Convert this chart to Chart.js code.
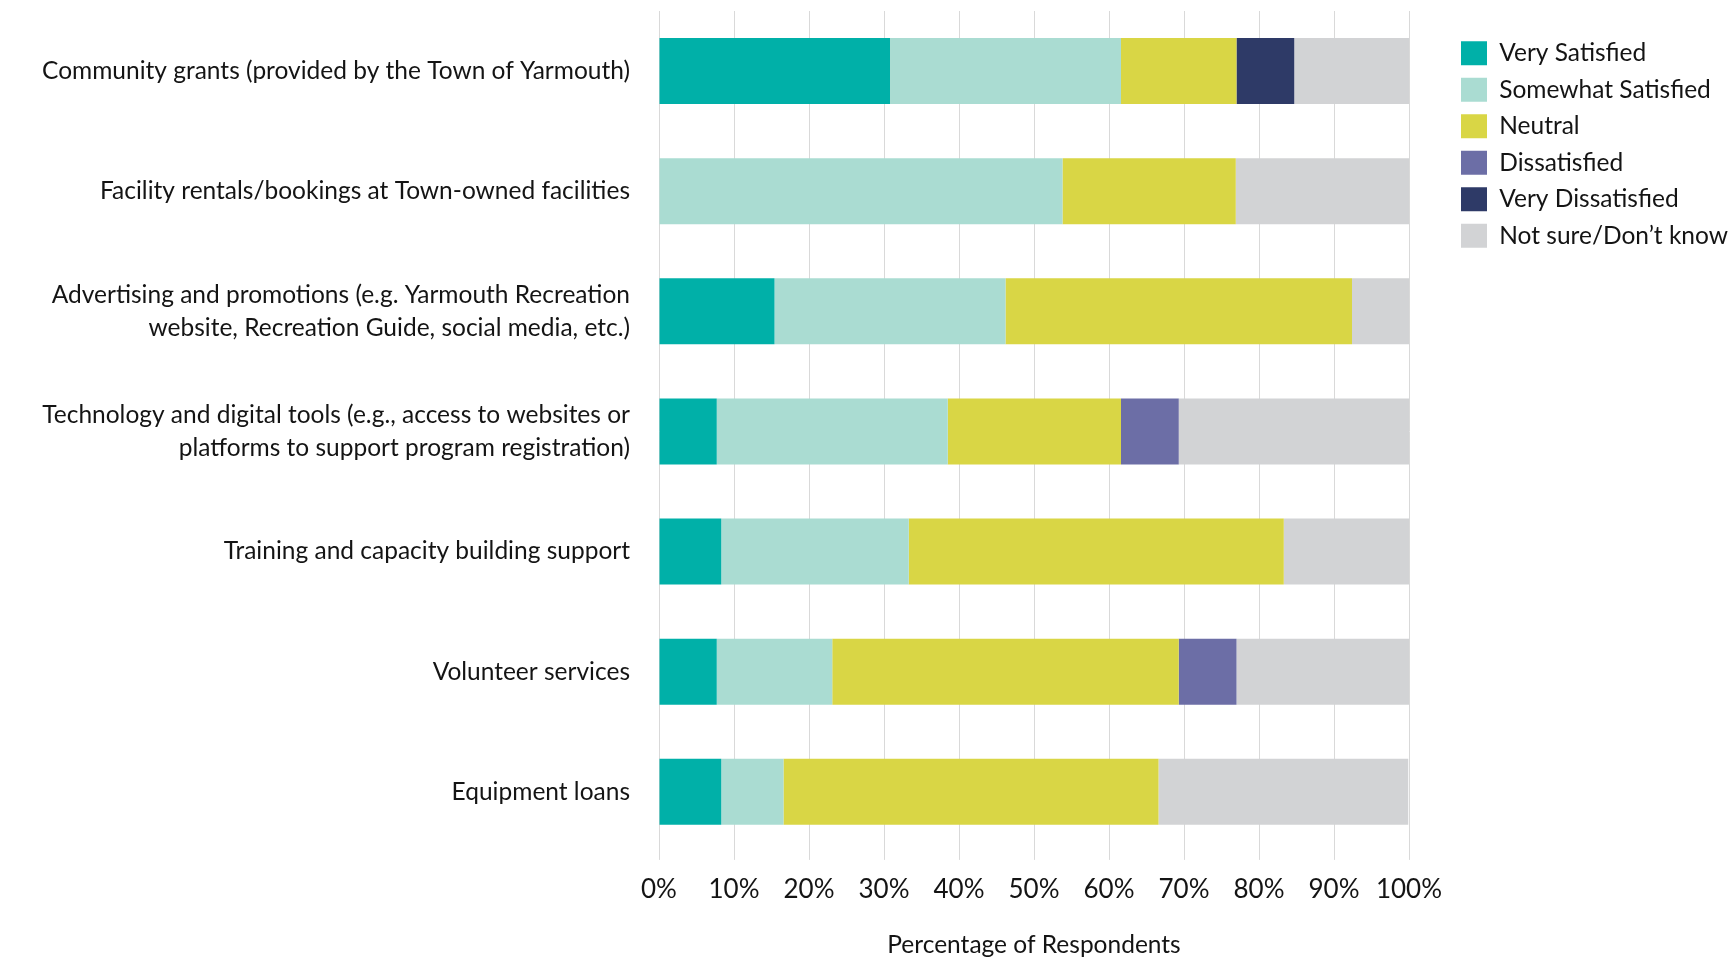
<!DOCTYPE html>
<html>
<head>
<meta charset="utf-8">
<title>Satisfaction with Town support services</title>
<script src="https://cdn.jsdelivr.net/npm/chart.js@4.4.1/dist/chart.umd.min.js"></script>
<style>
  html, body { margin: 0; padding: 0; background: #ffffff; }
  #wrap { width: 1731px; height: 964px; position: relative; }
</style>
</head>
<body>
<div id="wrap"><canvas id="chart"></canvas></div>
<script>
// Support services rated by respondents
const categories = [
  'Community grants (provided by the Town of Yarmouth)',
  'Facility rentals/bookings at Town-owned facilities',
  ['Advertising and promotions (e.g. Yarmouth Recreation', 'website, Recreation Guide, social media, etc.)'],
  ['Technology and digital tools (e.g., access to websites or', 'platforms to support program registration)'],
  'Training and capacity building support',
  'Volunteer services',
  'Equipment loans'
];

// Share of respondents (%) for each rating, in category order
const verySatisfied     = [30.8,  0.0, 15.4,  7.7,  8.3,  7.7,  8.3];
const somewhatSatisfied = [30.8, 53.8, 30.8, 30.8, 25.0, 15.4,  8.3];
const neutral           = [15.4, 23.1, 46.2, 23.1, 50.0, 46.2, 50.0];
const dissatisfied      = [ 0.0,  0.0,  0.0,  7.7,  0.0,  7.7,  0.0];
const veryDissatisfied  = [ 7.7,  0.0,  0.0,  0.0,  0.0,  0.0,  0.0];
const notSure           = [15.4, 23.1,  7.7, 30.8, 16.7, 23.1, 33.3];

const seriesNames = ['Very Satisfied', 'Somewhat Satisfied', 'Neutral', 'Dissatisfied', 'Very Dissatisfied', 'Not sure/Don\u2019t know'];
const seriesValues = [verySatisfied, somewhatSatisfied, neutral, dissatisfied, veryDissatisfied, notSure];
const seriesColors = ['#00B0A8', '#AADCD2', '#D9D645', '#6C6EA6', '#2E3A67', '#D2D3D5'];

const xTickValues = [0, 10, 20, 30, 40, 50, 60, 70, 80, 90, 100];
const xAxisTitle = 'Percentage of Respondents';

const FONT = 'Lato, "Open Sans", sans-serif';
const TEXT = '#141414';

// Legend sits in a fixed band to the right of the plot, inset from its edges
const LEGEND_BAND = 322;
const LEGEND_INSET_X = 40;
const LEGEND_INSET_Y = 18;

const legendPlacement = {
  id: 'legendPlacement',
  beforeLayout(chart) {
    const lg = chart.legend;
    if (lg && !lg.$fixedBand) {
      const fit = lg.fit.bind(lg);
      lg.fit = function () { fit(); this.width = LEGEND_BAND; };
      lg.$fixedBand = true;
    }
  },
  afterLayout(chart) {
    const lg = chart.legend;
    if (lg) {
      lg.left += LEGEND_INSET_X;
      lg.top += LEGEND_INSET_Y;
    }
  }
};

const datasets = seriesNames.map((name, i) => ({
  label: name,
  data: seriesValues[i],
  backgroundColor: seriesColors[i],
  borderWidth: 0,
  categoryPercentage: 1.0,
  barPercentage: 0.55
}));

new Chart(document.getElementById('chart'), {
  type: 'bar',
  data: { labels: categories, datasets },
  plugins: [legendPlacement],
  options: {
    indexAxis: 'y',
    responsive: true,
    maintainAspectRatio: false,
    animation: false,
    layout: { padding: { top: 11, right: 0, bottom: 0, left: 0 } },
    scales: {
      x: {
        stacked: true,
        min: 0,
        max: 100,
        afterBuildTicks(scale) { scale.ticks = xTickValues.map(v => ({ value: v })); },
        ticks: {
          callback: v => v + '%',
          color: TEXT,
          padding: 14,
          maxRotation: 0,
          font: { family: FONT, size: 26 }
        },
        grid: { color: '#D9D9D9', lineWidth: 1, drawTicks: true, tickLength: 8 },
        border: { display: false },
        title: {
          display: true,
          text: xAxisTitle,
          color: TEXT,
          font: { family: FONT, size: 24.5 },
          padding: { top: 11.5, bottom: 4 }
        }
      },
      y: {
        stacked: true,
        afterFit(scale) {
          scale.width = 659;
          scale.paddingTop = 0;
          scale.paddingBottom = 0;
        },
        ticks: {
          color: TEXT,
          padding: 29,
          font: { family: FONT, size: 24.5, lineHeight: 1.35 }
        },
        grid: { display: false, drawTicks: false },
        border: { display: false }
      }
    },
    plugins: {
      legend: {
        position: 'right',
        align: 'start',
        labels: {
          boxWidth: 26,
          boxHeight: 24,
          padding: 12,
          color: TEXT,
          font: { family: FONT, size: 24.5 }
        }
      },
      tooltip: { enabled: false }
    }
  }
});
</script>
</body>
</html>
